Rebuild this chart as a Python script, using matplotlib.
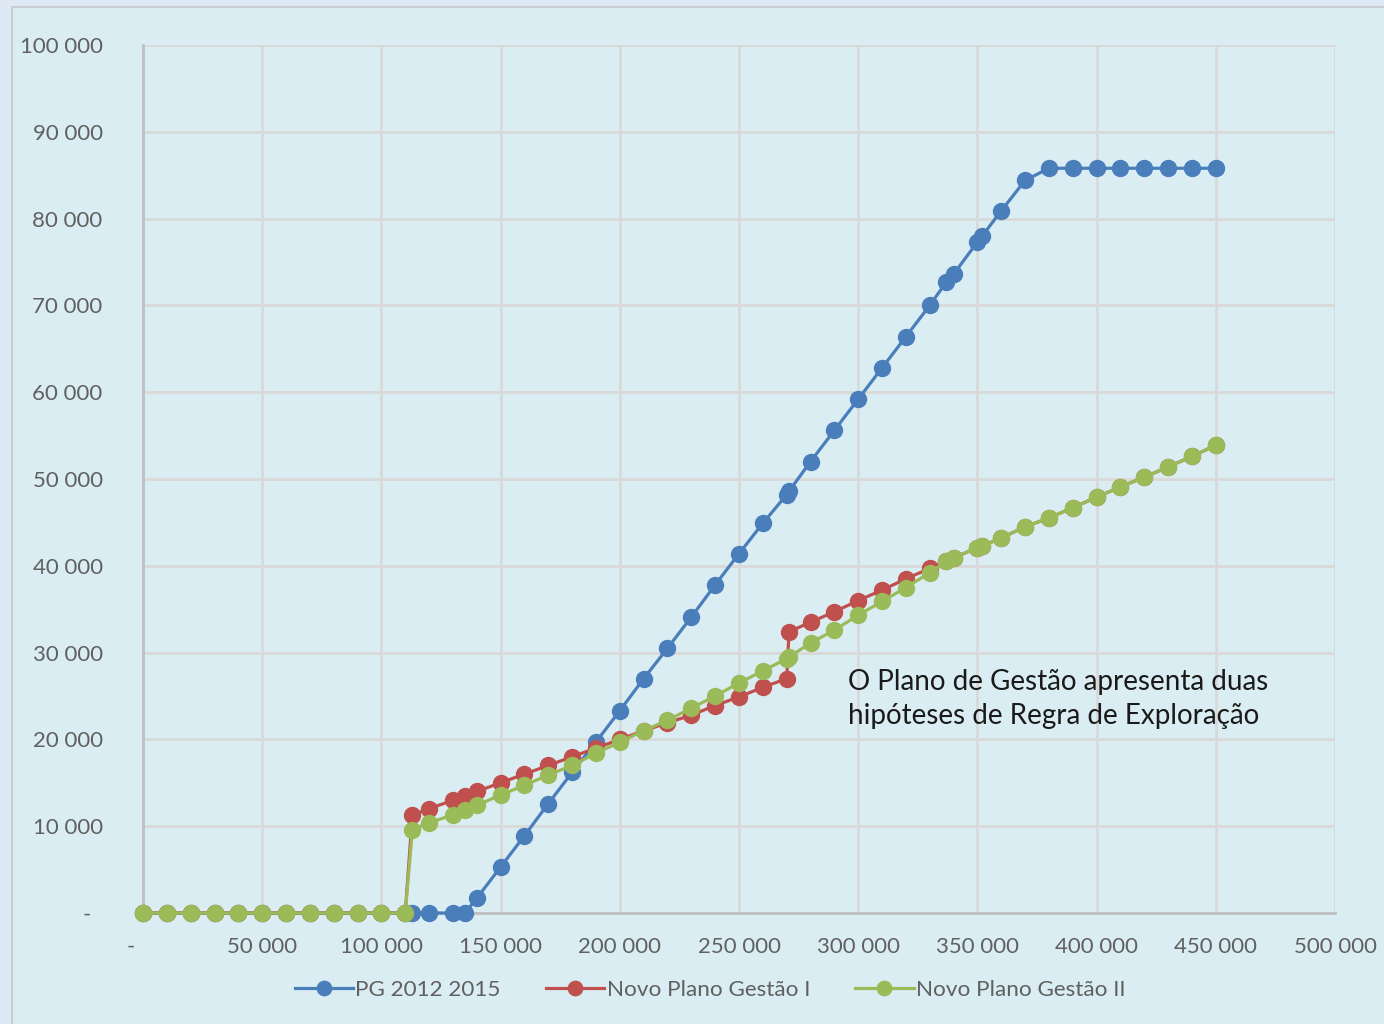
import matplotlib.pyplot as plt
from matplotlib.patches import Rectangle
from matplotlib.ticker import FuncFormatter, MultipleLocator

# PG 2012 2015
x_pg = [0, 10000, 20000, 30000, 40000, 50000, 60000, 70000, 80000, 90000, 100000, 110000,
        113000, 120000, 130000, 135000, 140000, 150000, 160000, 170000, 180000, 190000,
        200000, 210000, 220000, 230000, 240000, 250000, 260000, 270000, 271000, 280000,
        290000, 300000, 310000, 320000, 330000, 337000, 340000, 350000, 352000, 360000,
        370000, 380000, 390000, 400000, 410000, 420000, 430000, 440000, 450000]
y_pg = [0, 0, 0, 0, 0, 0, 0, 0, 0, 0, 0, 0,
        0, 0, 0, 0, 1700, 5300, 8900, 12600, 16200, 19700,
        23300, 27000, 30500, 34100, 37800, 41400, 44900, 48200, 48600, 52000,
        55600, 59200, 62800, 66400, 70000, 72700, 73600, 77300, 78000, 80900,
        84400, 85800, 85800, 85800, 85800, 85800, 85800, 85800, 85800]

# Novo Plano Gestão II
x_npg2 = [0, 10000, 20000, 30000, 40000, 50000, 60000, 70000, 80000, 90000, 100000, 110000,
          113000, 120000, 130000, 135000, 140000, 150000, 160000, 170000, 180000, 190000,
          200000, 210000, 220000, 230000, 240000, 250000, 260000, 270000, 271000, 280000,
          290000, 300000, 310000, 320000, 330000, 337000, 340000, 350000, 352000, 360000,
          370000, 380000, 390000, 400000, 410000, 420000, 430000, 440000, 450000]
y_npg2 = [0, 0, 0, 0, 0, 0, 0, 0, 0, 0, 0, 0,
          9600, 10400, 11300, 11900, 12400, 13600, 14700, 15900, 17000, 18400,
          19700, 21000, 22200, 23600, 25000, 26500, 27900, 29300, 29500, 31100,
          32600, 34300, 35900, 37500, 39200, 40500, 40900, 42100, 42300, 43200,
          44500, 45500, 46700, 47900, 49100, 50200, 51400, 52600, 53900]

# Novo Plano Gestão I (same as II after 337 000, hidden beneath it)
x_npg1 = list(x_npg2)
y_npg1 = [0, 0, 0, 0, 0, 0, 0, 0, 0, 0, 0, 0,
          11300, 12000, 13000, 13500, 14000, 15000, 16000, 17000, 18000, 19000,
          20000, 21000, 21900, 22800, 23900, 24900, 26000, 27000, 32400, 33500,
          34700, 36000, 37200, 38500, 39700, 40500, 40900, 42100, 42300, 43200,
          44500, 45500, 46700, 47900, 49100, 50200, 51400, 52600, 53900]

labels = ['PG 2012 2015', 'Novo Plano Gestão I', 'Novo Plano Gestão II']
colors = ['#4A7EBB', '#C0504D', '#9BBB59']
note = 'O Plano de Gestão apresenta duas\nhipóteses de Regra de Exploração'

plt.rcParams['font.family'] = ['Lato', 'DejaVu Sans']
txt_col = '#606060'

fig = plt.figure(figsize=(13.84, 10.24), dpi=100)
fig.patch.set_facecolor('#DFE9F5')
fig.patches.append(Rectangle((12 / 1384, -0.01), 1, 1.01 - 7 / 1024, transform=fig.transFigure,
                             facecolor='#DAEDF3', edgecolor='#C8CDD2', linewidth=1.5, zorder=-10))

ax = fig.add_axes([143 / 1384, 1 - 913 / 1024, (1335 - 143) / 1384, (913 - 45) / 1024])
ax.set_facecolor('#DAEDF3')

for xs, ys, lab, c in zip([x_pg, x_npg1, x_npg2], [y_pg, y_npg1, y_npg2], labels, colors):
    ax.plot(xs, ys, color=c, linewidth=2.3, marker='o', markersize=11.5, label=lab,
            clip_on=False, zorder=3)

ax.set_xlim(0, 500000)
ax.set_ylim(0, 100000)
ax.xaxis.set_major_locator(MultipleLocator(50000))
ax.yaxis.set_major_locator(MultipleLocator(10000))


def fmt_x(v, pos):
    if v == 0:
        return '-    '
    return '{:,.0f}'.format(v).replace(',', ' ')


def fmt_y(v, pos):
    if v == 0:
        return '-  '
    return '{:,.0f}'.format(v).replace(',', ' ')


ax.xaxis.set_major_formatter(FuncFormatter(fmt_x))
ax.yaxis.set_major_formatter(FuncFormatter(fmt_y))
ax.tick_params(length=0, labelsize=16, labelcolor=txt_col)
ax.tick_params(axis='x', pad=17)
ax.tick_params(axis='y', pad=29)

ax.grid(True, color='#D9D9D9', linewidth=2)
ax.set_axisbelow(True)
for s in ['top', 'right']:
    ax.spines[s].set_visible(False)
for s in ['left', 'bottom']:
    ax.spines[s].set_color('#BFBFBF')
    ax.spines[s].set_linewidth(2)
    ax.spines[s].set_zorder(2)

ax.text(848 / 1384, 1 - 699 / 1024, note, transform=fig.transFigure, fontsize=20,
        color='#1A1A1A', va='center', ha='left', linespacing=1.42)

leg = ax.legend(loc='center', bbox_to_anchor=(0.513, 1 - 990 / 1024), bbox_transform=fig.transFigure,
                ncol=3, frameon=False, fontsize=16.2, handlelength=2.6, columnspacing=2.0,
                handletextpad=0.1, markerscale=0.9)
for t in leg.get_texts():
    t.set_color(txt_col)

fig.savefig('out.png', dpi=100, facecolor=fig.get_facecolor())
